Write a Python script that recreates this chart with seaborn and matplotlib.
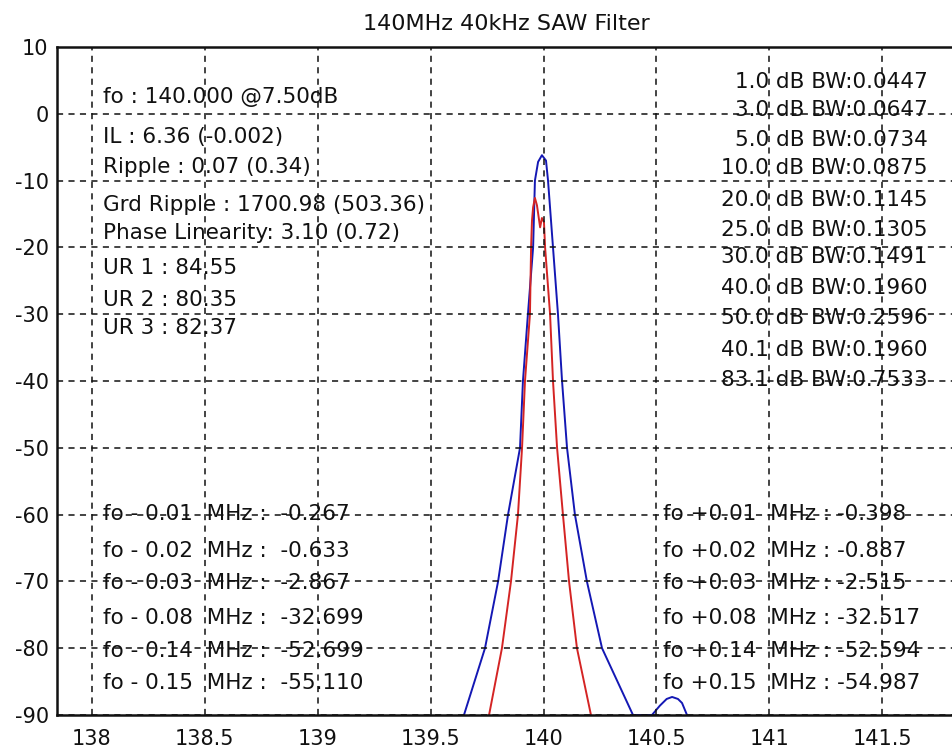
import matplotlib
matplotlib.use("Agg")
import matplotlib.pyplot as plt
import seaborn as sns
import pandas as pd

# ---- data ----
blue_freq = [139.648, 139.741, 139.799, 139.843, 139.896, 139.909, 139.931, 139.954,
             139.962, 139.976, 139.993, 140.011, 140.020, 140.042, 140.064, 140.082,
             140.104, 140.139, 140.192, 140.259, 140.396, 140.480, 140.515, 140.545,
             140.569, 140.595, 140.613, 140.635]
blue_db = [-90, -80, -70, -60, -50, -40, -30, -20,
           -10, -7.2, -6.2, -7.0, -10, -20, -30, -40,
           -50, -60, -70, -80, -90, -90, -88.6, -87.6,
           -87.3, -87.6, -88.2, -90]

red_freq = [139.759, 139.816, 139.856, 139.887, 139.905, 139.918, 139.940, 139.945,
            139.949, 139.954, 139.962, 139.971, 139.985, 139.993, 140.002, 140.007,
            140.029, 140.042, 140.060, 140.086, 140.113, 140.148, 140.210]
red_db = [-90, -80, -70, -60, -50, -40, -30, -20,
          -16, -14, -12.6, -13.7, -17, -15.6, -16.2, -20,
          -30, -40, -50, -60, -70, -80, -90]

x_ticks = [138, 138.5, 139, 139.5, 140, 140.5, 141, 141.5]
x_tick_labels = ["138", "138.5", "139", "139.5", "140", "140.5", "141", "141.5"]
y_ticks = [10, 0, -10, -20, -30, -40, -50, -60, -70, -80, -90]

title = "140MHz 40kHz SAW Filter"

info_lines = ["fo : 140.000 @7.50dB", "IL : 6.36 (-0.002)", "Ripple : 0.07 (0.34)",
              "Grd Ripple : 1700.98 (503.36)", "Phase Linearity: 3.10 (0.72)",
              "UR 1 : 84.55", "UR 2 : 80.35", "UR 3 : 82.37"]
bw_lines = ["1.0 dB BW:0.0447", "3.0 dB BW:0.0647", "5.0 dB BW:0.0734",
            "10.0 dB BW:0.0875", "20.0 dB BW:0.1145", "25.0 dB BW:0.1305",
            "30.0 dB BW:0.1491", "40.0 dB BW:0.1960", "50.0 dB BW:0.2596",
            "40.1 dB BW:0.1960", "83.1 dB BW:0.7533"]
low_lines = ["fo - 0.01  MHz :  -0.267", "fo - 0.02  MHz :  -0.633",
             "fo - 0.03  MHz :  -2.867", "fo - 0.08  MHz :  -32.699",
             "fo - 0.14  MHz :  -52.699", "fo - 0.15  MHz :  -55.110"]
high_lines = ["fo +0.01  MHz : -0.398", "fo +0.02  MHz : -0.887",
              "fo +0.03  MHz : -2.515", "fo +0.08  MHz : -32.517",
              "fo +0.14  MHz : -52.594", "fo +0.15  MHz : -54.987"]

# ---- layout (positions, not data) ----
info_y = [2.5, -3.5, -8.0, -13.7, -17.9, -23.1, -27.9, -32.0]
bw_y = [4.75, 0.55, -3.94, -8.14, -12.9, -17.4, -21.5, -26.1, -30.5, -35.4, -39.9]
low_y = [-59.9, -65.4, -70.2, -75.5, -80.4, -85.2]

sns.set_style("white")
plt.rcParams["font.family"] = ["DejaVu Sans"]
plt.rcParams["axes.unicode_minus"] = False

W, H = 953, 754
fig = plt.figure(figsize=(W / 100, H / 100), dpi=100, facecolor="white")
ax = fig.add_axes([57 / W, 1 - 715 / H, (955 - 57) / W, (715 - 47) / H])

blue_df = pd.DataFrame({"freq": blue_freq, "db": blue_db})
red_df = pd.DataFrame({"freq": red_freq, "db": red_db})
sns.lineplot(data=blue_df, x="freq", y="db", ax=ax, color="#1418b4", lw=1.4,
             sort=False, estimator=None)
sns.lineplot(data=red_df, x="freq", y="db", ax=ax, color="#d42424", lw=1.4,
             sort=False, estimator=None)

ax.set_xlim(137.847, 141.821)
ax.set_ylim(-90, 10)
ax.set_xticks(x_ticks)
ax.set_xticklabels(x_tick_labels)
ax.set_yticks(y_ticks)
ax.set_xlabel("")
ax.set_ylabel("")
ax.tick_params(axis="both", direction="in", length=5, width=1, colors="#111111",
               labelsize=15)
ax.tick_params(axis="x", pad=10)
ax.tick_params(axis="y", pad=6)

ax.set_axisbelow(False)
ax.grid(True, color="#111111", linestyle=(0, (4, 3.5)), linewidth=1.1)
for s in ax.spines.values():
    s.set_color("#111111")
    s.set_linewidth(1.8)

ax.set_title(title, fontsize=16, pad=12, color="#111111")

fs = 15.5
for t, y in zip(info_lines, info_y):
    ax.text(138.05, y, t, fontsize=fs, va="center", ha="left", zorder=1.5, color="#111111")
for t, y in zip(bw_lines, bw_y):
    ax.text(141.70, y, t, fontsize=fs, va="center", ha="right", zorder=1.5, color="#111111")
for t, y in zip(low_lines, low_y):
    ax.text(138.05, y, t, fontsize=fs, va="center", ha="left", zorder=1.5, color="#111111")
for t, y in zip(high_lines, low_y):
    ax.text(140.529, y, t, fontsize=fs, va="center", ha="left", zorder=1.5, color="#111111")

fig.savefig("out.png", dpi=100, facecolor="white")
